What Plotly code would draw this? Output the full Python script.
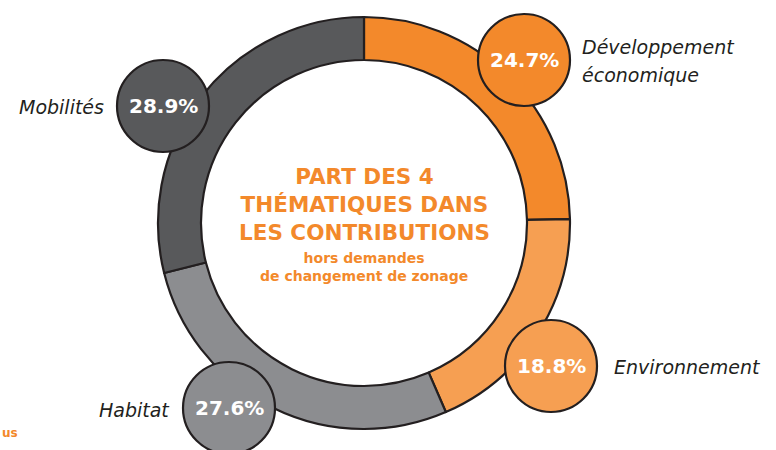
import plotly.graph_objects as go

# ---- data ----
categories = ["Développement<br>économique", "Environnement", "Habitat", "Mobilités"]
values = [24.7, 18.8, 27.6, 28.9]

# ---- style / layout ----
W, H = 776, 450
colors = ["#F3892B", "#F69F52", "#8C8D90", "#58595B"]
outline = "#231F20"
orange = "#F3892B"
CX, CY, R_OUT, R_IN = 364, 223, 206, 163
# bubble centers (px) and label placement
bubble_pos = [(524, 60), (551, 366), (229, 408), (163, 106)]
bubble_r = 46
label_pos = [(580, 61, "left"), (612, 367, "left"), (172, 410, "right"), (106, 107, "right")]
label_line_gap = 28

FONT = "DejaVu Sans"


def px(x):
    return x / W


def py(y):
    return 1 - y / H


fig = go.Figure()
fig.add_trace(go.Pie(
    values=values,
    labels=[c.replace("<br>", " ") for c in categories],
    sort=False,
    direction="clockwise",
    rotation=0,
    hole=R_IN / R_OUT,
    textinfo="none",
    hoverinfo="label+value",
    marker=dict(colors=colors, line=dict(color=outline, width=2.2)),
    domain=dict(x=[px(CX - R_OUT), px(CX + R_OUT)], y=[py(CY + R_OUT), py(CY - R_OUT)]),
    showlegend=False,
))

shapes = []
annotations = []
for v, col, (bx, by), (lx, ly, side), cat in zip(values, colors, bubble_pos, label_pos, categories):
    shapes.append(dict(
        type="circle", xref="paper", yref="paper", layer="above",
        x0=px(bx - bubble_r), x1=px(bx + bubble_r),
        y0=py(by + bubble_r), y1=py(by - bubble_r),
        fillcolor=col, line=dict(color=outline, width=2.2),
    ))
    annotations.append(dict(
        x=px(bx), y=py(by), xref="paper", yref="paper",
        text=f"<b>{v:.1f}%</b>", showarrow=False,
        font=dict(family=FONT, size=20, color="white"),
        xanchor="center", yanchor="middle",
    ))
    lines = cat.split("<br>")
    n = len(lines)
    for i, line in enumerate(lines):
        yy = ly + (i - (n - 1) / 2) * label_line_gap
        annotations.append(dict(
            x=px(lx), y=py(yy), xref="paper", yref="paper",
            text=f"<i>{line}</i>", showarrow=False, align=side,
            font=dict(family=FONT, size=19, color=outline),
            xanchor=side, yanchor="middle",
        ))

annotations.append(dict(
    x=px(CX), y=py(204), xref="paper", yref="paper",
    text="<b>PART DES 4<br>THÉMATIQUES DANS<br>LES CONTRIBUTIONS</b>",
    showarrow=False, align="center",
    font=dict(family=FONT, size=21.5, color=orange),
    xanchor="center", yanchor="middle",
))
annotations.append(dict(
    x=px(CX), y=py(267), xref="paper", yref="paper",
    text="<b>hors demandes<br>de changement de zonage</b>",
    showarrow=False, align="center",
    font=dict(family=FONT, size=14, color=orange),
    xanchor="center", yanchor="middle",
))
annotations.append(dict(
    x=0, y=py(433), xref="paper", yref="paper",
    text="<b>us</b>", showarrow=False,
    font=dict(family=FONT, size=12, color=orange),
    xanchor="left", yanchor="middle",
))

fig.update_layout(
    width=W, height=H,
    margin=dict(l=0, r=0, t=0, b=0),
    paper_bgcolor="white", plot_bgcolor="white",
    shapes=shapes, annotations=annotations,
)

fig.write_html(
    "out.html",
    config={"displayModeBar": False},
    post_script="document.body.style.margin='0';document.body.style.overflow='hidden';",
)
